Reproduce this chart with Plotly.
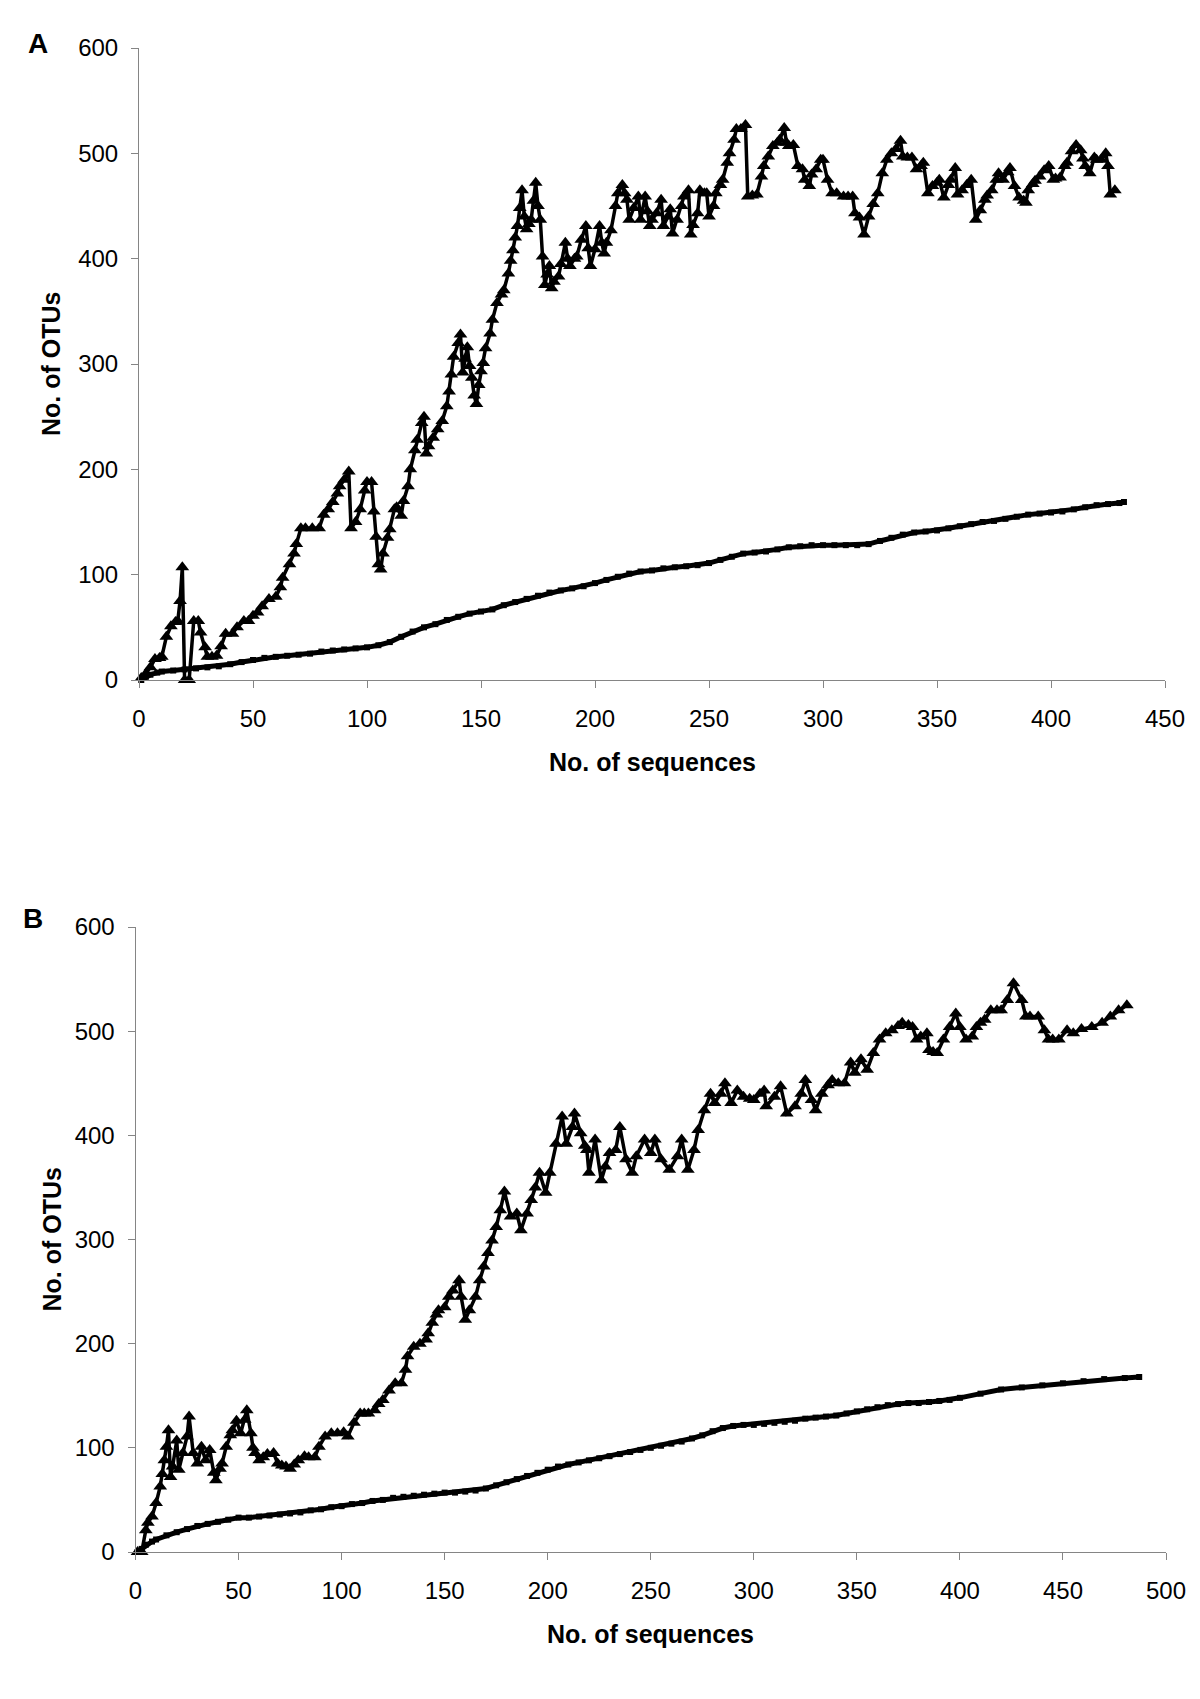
import plotly.graph_objects as go

# ---------------- Panel A data ----------------
a_tri_x = [1, 3, 5, 7, 9, 10, 12, 14, 16, 17, 18, 19, 20, 22, 24, 26, 27, 29, 30, 32, 34, 36, 38, 41, 43, 46, 48, 50,
           52, 54, 57, 60, 62, 63, 66, 68, 69, 71, 73, 76, 79, 81, 83, 85, 87, 88, 90, 92, 93, 95, 97, 99, 100, 102,
           103, 104, 105, 106, 107, 109, 110, 112, 113, 115, 116, 118, 119, 121, 122, 124, 125, 126, 127, 129, 131,
           133, 135, 136, 137, 138, 140, 141, 142, 143, 144, 145, 146, 147, 148, 149, 150, 151, 152, 154, 155, 157,
           159, 160, 162, 163, 164, 165, 166, 167, 168, 169, 170, 171, 172, 173, 174, 175, 176, 177, 178, 179, 180,
           181, 182, 184, 185, 187, 188, 189, 191, 192, 194, 196, 197, 198, 200, 202, 203, 204, 205, 207, 209, 210,
           212, 213, 214, 215, 217, 219, 220, 222, 223, 224, 225, 227, 229, 230, 232, 233, 234, 236, 238, 239, 241,
           242, 243, 245, 246, 248, 249, 250, 252, 253, 255, 256, 258, 259, 261, 262, 264, 266, 267, 269, 271, 273,
           274, 276, 278, 280, 281, 283, 284, 285, 287, 289, 291, 292, 294, 295, 297, 299, 300, 302, 304, 306, 309,
           311, 313, 314, 316, 318, 320, 322, 324, 326, 328, 330, 332, 334, 335, 337, 339, 341, 343, 344, 346, 348,
           350, 351, 353, 355, 356, 358, 359, 361, 363, 365, 367, 369, 371, 372, 374, 376, 377, 379, 381, 382, 384,
           386, 388, 389, 390, 392, 393, 395, 397, 399, 401, 402, 404, 406, 407, 409, 411, 413, 414, 415, 417, 419,
           420, 422, 424, 425, 426, 428]
a_tri_y = [2, 6, 12, 20, 21, 22, 41, 51, 55, 56, 75, 107, 0, 0, 56, 56, 45, 31, 22, 22, 23, 32, 44, 44, 50, 56, 56, 61,
           64, 70, 77, 79, 88, 97, 110, 120, 129, 144, 144, 144, 144, 157, 162, 169, 177, 184, 190, 198, 144, 150, 162,
           180, 188, 188, 160, 136, 110, 105, 120, 135, 143, 162, 164, 156, 170, 184, 200, 218, 228, 244, 250, 215,
           222, 230, 238, 246, 260, 274, 290, 307, 320, 328, 292, 305, 316, 298, 287, 270, 262, 280, 293, 301, 315,
           329, 342, 358, 366, 370, 386, 398, 408, 420, 431, 448, 465, 440, 428, 433, 437, 455, 472, 450, 437, 402,
           375, 385, 393, 372, 378, 383, 395, 415, 400, 393, 400, 402, 418, 431, 410, 393, 409, 431, 415, 405, 415,
           427, 450, 462, 470, 462, 456, 437, 448, 459, 437, 459, 445, 431, 437, 443, 456, 431, 440, 447, 424, 437,
           450, 459, 465, 423, 432, 443, 465, 462, 462, 440, 450, 462, 470, 475, 491, 500, 513, 523, 523, 527, 459,
           460, 461, 478, 488, 497, 507, 510, 513, 524, 510, 507, 508, 488, 485, 475, 469, 480, 485, 494, 494, 475,
           462, 462, 459, 459, 459, 443, 439, 423, 440, 452, 462, 481, 494, 500, 504, 512, 497, 496, 496, 485, 488,
           491, 462, 469, 472, 475, 458, 470, 475, 486, 461, 465, 470, 475, 437, 446, 456, 460, 465, 475, 481, 475,
           482, 486, 469, 458, 455, 453, 465, 471, 474, 478, 484, 488, 475, 476, 477, 488, 491, 502, 508, 503, 495,
           488, 481, 496, 494, 494, 500, 488, 461, 465]

a_low_x = [1, 3, 5, 8, 10, 15, 20, 25, 30, 35, 40, 45, 50, 55, 60, 65, 70, 75, 80, 85, 90, 95, 100, 105, 110, 115,
           120, 125, 130, 135, 140, 145, 150, 155, 160, 165, 170, 175, 180, 185, 190, 195, 200, 205, 210, 215, 220,
           225, 230, 235, 240, 245, 250, 255, 260, 265, 270, 275, 280, 285, 290, 295, 300, 305, 310, 315, 320, 325,
           330, 335, 340, 345, 350, 355, 360, 365, 370, 375, 380, 385, 390, 395, 400, 405, 410, 415, 420, 425, 430,
           432]
a_low_y = [0, 3, 5, 7, 8, 9, 10, 11, 12, 13, 15, 17, 19, 21, 22, 23, 24, 25, 27, 28, 29, 30, 31, 33, 36, 41, 46, 50,
           53, 57, 60, 63, 65, 67, 71, 74, 77, 80, 83, 85, 87, 89, 92, 95, 98, 101, 103, 104, 106, 107, 108, 109, 111,
           114, 117, 120, 121, 122, 124, 126, 127, 128, 128, 128, 128, 128, 129, 132, 135, 138, 140, 141, 142, 144,
           146, 148, 150, 151, 153, 155, 157, 158, 159, 160, 162, 164, 166, 167, 168, 169]

# ---------------- Panel B data ----------------
b_tri_x = [1, 3, 5, 6, 8, 10, 12, 13, 14, 15, 16, 17, 18, 20, 21, 23, 25, 26, 28, 30, 32, 34, 36, 38, 39, 41, 42, 44,
           46, 47, 49, 51, 53, 54, 56, 57, 58, 60, 62, 64, 67, 69, 71, 73, 75, 77, 79, 82, 84, 87, 89, 92, 95, 98, 101,
           103, 106, 109, 111, 113, 116, 118, 120, 123, 126, 129, 131, 132, 135, 138, 141, 142, 144, 146, 147, 150,
           152, 154, 157, 158, 160, 162, 165, 167, 169, 171, 173, 175, 177, 179, 182, 185, 187, 190, 192, 194, 196,
           199, 201, 204, 207, 209, 212, 213, 216, 218, 219, 220, 223, 226, 228, 230, 233, 235, 238, 241, 243, 247,
           250, 252, 255, 259, 263, 265, 268, 271, 273, 276, 279, 281, 284, 286, 289, 292, 295, 298, 300, 303, 305,
           306, 310, 313, 316, 320, 323, 325, 328, 330, 333, 336, 338, 341, 344, 347, 349, 352, 355, 358, 361, 364,
           367, 370, 372, 375, 377, 379, 381, 384, 385, 387, 389, 392, 395, 398, 400, 403, 406, 408, 410, 412, 415,
           418, 420, 423, 426, 430, 432, 434, 438, 441, 443, 445, 448, 452, 455, 459, 464, 469, 473, 477, 481]
b_tri_y = [0, 0, 21, 28, 34, 47, 63, 75, 88, 101, 117, 72, 82, 107, 79, 95, 111, 130, 95, 85, 101, 88, 98, 76, 69, 80,
           85, 101, 112, 117, 126, 114, 127, 136, 114, 100, 95, 88, 91, 94, 95, 85, 83, 82, 80, 84, 88, 92, 91, 91,
           101, 111, 114, 114, 115, 111, 124, 133, 133, 133, 136, 142, 146, 155, 162, 162, 175, 188, 197, 200, 204,
           210, 220, 228, 232, 235, 245, 251, 261, 245, 223, 232, 245, 261, 274, 287, 299, 312, 328, 346, 322, 325,
           309, 325, 338, 350, 364, 345, 364, 392, 418, 392, 408, 421, 402, 390, 386, 364, 396, 357, 370, 383, 386,
           408, 377, 364, 380, 396, 383, 396, 377, 367, 380, 396, 367, 386, 405, 424, 440, 431, 440, 450, 431, 443,
           437, 435, 434, 440, 443, 428, 437, 447, 421, 428, 440, 453, 434, 424, 440, 448, 453, 450, 450, 470, 460,
           473, 463, 479, 492, 498, 501, 505, 508, 506, 504, 492, 495, 498, 482, 480, 479, 492, 504, 517, 504, 492,
           495, 504, 508, 511, 520, 520, 520, 530, 546, 530, 514, 514, 514, 501, 492, 492, 492, 501, 498, 502, 504,
           508, 514, 520, 525]

b_low_x = [1, 3, 5, 8, 10, 15, 20, 25, 30, 35, 40, 45, 50, 55, 60, 65, 70, 75, 80, 85, 90, 95, 100, 105, 110, 115,
           120, 125, 130, 135, 140, 145, 150, 155, 160, 165, 170, 175, 180, 185, 190, 195, 200, 205, 210, 215, 220,
           225, 230, 235, 240, 245, 250, 255, 260, 265, 270, 275, 280, 285, 290, 295, 300, 305, 310, 315, 320, 325,
           330, 335, 340, 345, 350, 355, 360, 365, 370, 375, 380, 385, 390, 395, 400, 410, 420, 430, 440, 450, 460,
           470, 480, 487]
b_low_y = [0, 3, 7, 10, 12, 16, 19, 22, 25, 27, 29, 31, 33, 33, 34, 35, 36, 37, 38, 40, 41, 43, 44, 46, 47, 49, 50,
           52, 53, 54, 55, 56, 57, 57, 58, 59, 61, 64, 67, 70, 73, 76, 79, 82, 84, 86, 88, 90, 92, 94, 96, 98, 100,
           102, 104, 106, 109, 112, 116, 119, 121, 122, 122, 123, 124, 125, 126, 128, 129, 130, 131, 133, 135, 137,
           139, 141, 142, 143, 143, 144, 145, 146, 148, 152, 156, 158, 160, 162, 164, 166, 167, 168]

x_ticks_a = [0, 50, 100, 150, 200, 250, 300, 350, 400, 450]
x_ticks_b = [0, 50, 100, 150, 200, 250, 300, 350, 400, 450, 500]
y_ticks = [0, 100, 200, 300, 400, 500, 600]

W, H = 1200, 1699
OFF = 8  # page body margin
FONT = "Liberation Sans, Arial, sans-serif"
AXIS_COLOR = "#858585"

fig = go.Figure()


def add_panel(tx, ty, lx, ly, xa, ya):
    fig.add_trace(go.Scatter(
        x=lx, y=ly, mode="lines+markers", xaxis=xa, yaxis=ya, cliponaxis=False,
        line=dict(color="black", width=5),
        marker=dict(symbol="square", size=6, color="black"),
        showlegend=False))
    fig.add_trace(go.Scatter(
        x=tx, y=ty, mode="lines+markers", xaxis=xa, yaxis=ya, cliponaxis=False,
        line=dict(color="black", width=3.5),
        marker=dict(symbol="triangle-up", size=12, color="black"),
        showlegend=False))


add_panel(a_tri_x, a_tri_y, a_low_x, a_low_y, "x", "y")
add_panel(b_tri_x, b_tri_y, b_low_x, b_low_y, "x2", "y2")


def px_x(p):
    return (p - OFF) / W


def px_y(p):
    return 1 - (p - OFF) / H


common_axis = dict(showgrid=False, zeroline=False, showline=True, linecolor=AXIS_COLOR, linewidth=1,
                   ticks="outside", ticklen=7, tickcolor=AXIS_COLOR, tickwidth=1, automargin=False,
                   tickfont=dict(family=FONT, size=24, color="black"))

A_L, A_R, A_T, A_B = 139, 1165, 48, 680
B_L, B_R, B_T, B_B = 135.5, 1166, 927, 1552

fig.update_layout(
    template="none",
    width=W, height=H,
    margin=dict(l=0, r=0, t=0, b=0, pad=0),
    paper_bgcolor="white", plot_bgcolor="white",
    xaxis=dict(domain=[px_x(A_L), px_x(A_R)], range=[0, 450], tickvals=x_ticks_a, anchor="y",
               ticklabelstandoff=10, **common_axis),
    yaxis=dict(domain=[px_y(A_B), px_y(A_T)], range=[0, 600], tickvals=y_ticks, anchor="x",
               ticklabelstandoff=8, **common_axis),
    xaxis2=dict(domain=[px_x(B_L), px_x(B_R)], range=[0, 500], tickvals=x_ticks_b, anchor="y2",
                ticklabelstandoff=10, **common_axis),
    yaxis2=dict(domain=[px_y(B_B), px_y(B_T)], range=[0, 600], tickvals=y_ticks, anchor="x2",
                ticklabelstandoff=8, **common_axis),
)

title_font = dict(family=FONT, size=25, color="black", weight="bold")
letter_font = dict(family=FONT, size=28, color="black", weight="bold")

annotations = [
    dict(text="A", x=px_x(38), y=px_y(43), font=letter_font),
    dict(text="B", x=px_x(33), y=px_y(918), font=letter_font),
    dict(text="No. of sequences", x=px_x((A_L + A_R) / 2), y=px_y(762), font=title_font),
    dict(text="No. of sequences", x=px_x((B_L + B_R) / 2), y=px_y(1634), font=title_font),
    dict(text="No. of OTUs", x=px_x(51), y=px_y((A_T + A_B) / 2), font=title_font, textangle=-90),
    dict(text="No. of OTUs", x=px_x(51), y=px_y((B_T + B_B) / 2), font=title_font, textangle=-90),
]
for a in annotations:
    a.update(xref="paper", yref="paper", showarrow=False, xanchor="center", yanchor="middle")
fig.update_layout(annotations=annotations)

fig.write_html("out.html")
